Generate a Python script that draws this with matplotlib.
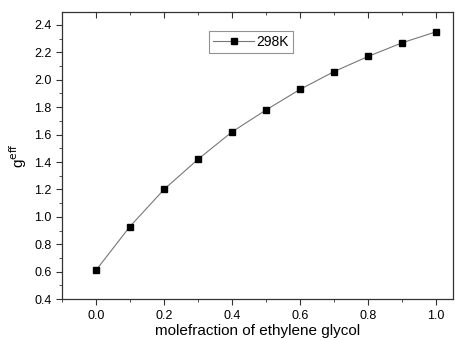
import matplotlib.pyplot as plt
import numpy as np
from matplotlib.ticker import MultipleLocator

plt.rcParams['font.family'] = ['Liberation Sans', 'DejaVu Sans']

# datos
fraccion = [0.0, 0.1, 0.2, 0.3, 0.4, 0.5, 0.6, 0.7, 0.8, 0.9, 1.0]
g_eff = [0.61, 0.93, 1.20, 1.42, 1.62, 1.78, 1.93, 2.06, 2.17, 2.27, 2.35]

fig = plt.figure(figsize=(4.55, 3.40), dpi=100)
ax = fig.add_axes([0.136, 0.12, 0.86, 0.845])

ax.plot(fraccion, g_eff, color='#777777', linewidth=0.8, marker='s',
        markersize=4, markerfacecolor='black', markeredgecolor='black',
        label='298K')

ax.set_xlim(-0.1, 1.05)
ax.set_ylim(0.4, 2.495)
ax.xaxis.set_major_locator(MultipleLocator(0.2))
ax.xaxis.set_minor_locator(MultipleLocator(0.1))
ax.yaxis.set_major_locator(MultipleLocator(0.2))
ax.yaxis.set_minor_locator(MultipleLocator(0.1))
ax.xaxis.set_major_formatter(plt.FormatStrFormatter('%.1f'))
ax.yaxis.set_major_formatter(plt.FormatStrFormatter('%.1f'))

ax.tick_params(which='both', direction='out', top=True, right=False,
               labelsize=9, color='#333333')
ax.tick_params(which='major', length=4)
ax.tick_params(which='minor', length=2)
ax.tick_params(axis='x', which='major', pad=4)
# ticks superiores hacia adentro
for t in ax.xaxis.get_major_ticks() + ax.xaxis.get_minor_ticks():
    t.tick2line.set_marker(3)

for s in ax.spines.values():
    s.set_linewidth(0.9)
    s.set_color('#333333')

ax.set_xlabel('molefraction of ethylene glycol', fontsize=11, labelpad=1)
ax.set_ylabel(r'g$^{\rm eff}$', fontsize=11, labelpad=4)

leg = ax.legend(loc='upper left', bbox_to_anchor=(0.375, 0.935), fontsize=10,
                fancybox=False, edgecolor='#777777', handlelength=3.0,
                borderpad=0.3, handletextpad=0.1, borderaxespad=0)
leg.get_frame().set_linewidth(0.8)

plt.savefig('out.png', dpi=100)
